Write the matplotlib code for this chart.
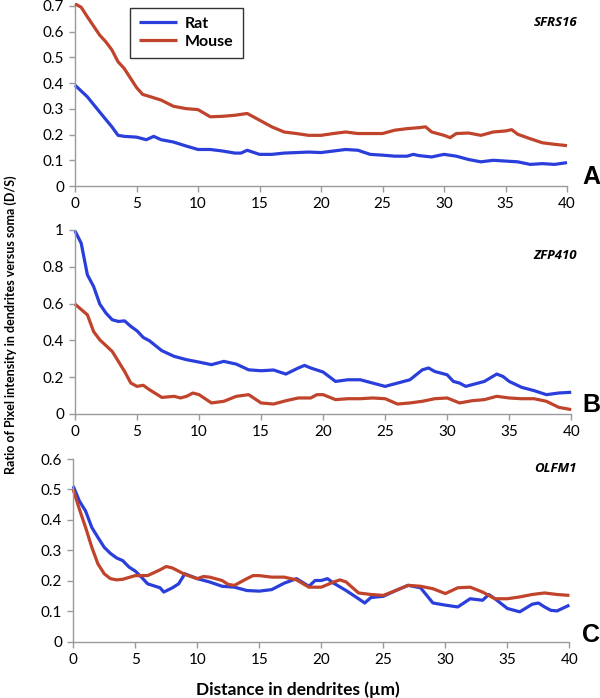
import matplotlib
matplotlib.use("Agg")
import matplotlib.pyplot as plt

plt.rcParams['font.family'] = ['Lato', 'DejaVu Sans']

RAT_COLOR = "#2a3edb"
MOUSE_COLOR = "#c0432b"

# ---- SFRS16 (A) ----
a_rat_x = [0, 1, 2, 3, 3.5, 4, 5, 5.8, 6.4, 7, 8, 9, 10, 11, 12, 13, 13.5, 14, 15, 16, 17, 18, 19,
           20, 21, 22, 23, 24, 25, 26, 27, 27.5, 28, 29, 30, 31, 32, 33, 34, 35, 36, 37, 38, 39, 40]
a_rat_y = [0.392, 0.347, 0.288, 0.23, 0.197, 0.193, 0.19, 0.18, 0.193, 0.18, 0.171, 0.156, 0.142, 0.142,
           0.136, 0.128, 0.128, 0.139, 0.123, 0.123, 0.128, 0.13, 0.132,
           0.13, 0.136, 0.142, 0.139, 0.123, 0.12, 0.116, 0.116, 0.123, 0.118, 0.113, 0.123, 0.116,
           0.103, 0.094, 0.1, 0.097, 0.094, 0.084, 0.087, 0.084, 0.091]
a_mouse_x = [0, 0.5, 1, 2, 2.5, 3, 3.5, 4, 5, 5.5, 6, 7, 8, 9, 10, 11, 12, 13, 14, 15, 16, 17, 18, 19,
             20, 21, 22, 23, 24, 25, 26, 27, 28, 28.5, 29, 30, 30.5, 31, 32, 33, 34, 35, 35.5, 36, 37, 38, 39, 40]
a_mouse_y = [0.708, 0.695, 0.658, 0.587, 0.561, 0.529, 0.483, 0.457, 0.383, 0.356, 0.349, 0.334, 0.31,
             0.301, 0.297, 0.269, 0.271, 0.275, 0.282, 0.256, 0.23, 0.21, 0.204, 0.197,
             0.197, 0.204, 0.21, 0.204, 0.204, 0.204, 0.217, 0.223, 0.227, 0.23, 0.21, 0.197, 0.188,
             0.204, 0.206, 0.197, 0.21, 0.214, 0.219, 0.201, 0.184, 0.168, 0.162, 0.157]

# ---- ZFP410 (B) ----
b_rat_x = [0, 0.5, 1, 1.5, 2, 2.5, 3, 3.5, 4, 4.5, 5, 5.5, 6, 7, 8, 9, 10, 11, 12, 13, 14, 15, 16, 17,
           18, 18.5, 19, 20, 21, 22, 23, 24, 25, 26, 27, 27.5, 28, 28.5, 29, 30, 30.5, 31, 31.5, 32,
           33, 34, 34.5, 35, 36, 37, 38, 39, 40]
b_rat_y = [0.995, 0.928, 0.756, 0.693, 0.597, 0.548, 0.512, 0.503, 0.506, 0.476, 0.452, 0.416, 0.398,
           0.344, 0.313, 0.295, 0.282, 0.268, 0.286, 0.271, 0.24, 0.235, 0.239, 0.217,
           0.25, 0.264, 0.25, 0.228, 0.177, 0.186, 0.186, 0.168, 0.15, 0.168, 0.186, 0.213, 0.24,
           0.25, 0.231, 0.213, 0.177, 0.168, 0.15, 0.159, 0.177, 0.217, 0.204, 0.177, 0.145,
           0.127, 0.105, 0.114, 0.118]
b_mouse_x = [0, 1, 1.5, 2, 3, 4, 4.5, 5, 5.5, 6, 7, 8, 8.5, 9, 9.5, 10, 11, 12, 13, 14, 15, 16, 17,
             18, 19, 19.5, 20, 21, 22, 23, 24, 25, 26, 27, 28, 29, 30, 31, 32, 33, 34, 35, 36, 37,
             38, 39, 40]
b_mouse_y = [0.597, 0.539, 0.448, 0.403, 0.34, 0.231, 0.168, 0.15, 0.156, 0.132, 0.09, 0.096, 0.087,
             0.096, 0.114, 0.105, 0.06, 0.069, 0.096, 0.105, 0.06, 0.054, 0.072, 0.087, 0.087,
             0.105, 0.105, 0.078, 0.083, 0.083, 0.087, 0.083, 0.054, 0.06, 0.069, 0.083, 0.087,
             0.06, 0.072, 0.078, 0.096, 0.087, 0.083, 0.083, 0.069, 0.036, 0.024]

# ---- OLFM1 (C) ----
c_rat_x = [0, 0.5, 1, 1.5, 2, 2.5, 3, 3.5, 4, 4.5, 5, 5.5, 6, 7, 7.3, 8, 8.5, 9, 10, 11, 12, 13, 14,
           15, 16, 17, 18, 19, 19.5, 20, 20.5, 21, 22, 23, 23.5, 24, 25, 26, 27, 28, 29, 30, 31,
           32, 33, 33.5, 34, 35, 36, 37, 37.5, 38, 38.5, 39, 40]
c_rat_y = [0.511, 0.462, 0.429, 0.375, 0.342, 0.31, 0.29, 0.275, 0.266, 0.245, 0.232, 0.212, 0.19,
           0.177, 0.163, 0.177, 0.19, 0.223, 0.207, 0.196, 0.182, 0.179, 0.168, 0.166, 0.171,
           0.192, 0.207, 0.182, 0.201, 0.201, 0.207, 0.192, 0.168, 0.141, 0.127, 0.145, 0.149,
           0.168, 0.185, 0.177, 0.127, 0.12, 0.114, 0.141, 0.136, 0.155, 0.141, 0.109, 0.098,
           0.123, 0.127, 0.114, 0.103, 0.101, 0.12]
c_mouse_x = [0, 0.5, 1, 1.5, 2, 2.5, 3, 3.5, 4, 5, 6, 7, 7.5, 8, 9, 10, 10.5, 11, 12, 12.5, 13, 14,
             14.5, 15, 16, 17, 18, 19, 20, 21, 21.5, 22, 23, 24, 25, 26, 27, 28, 29, 30, 31, 32,
             33, 34, 35, 36, 37, 38, 39, 40]
c_mouse_y = [0.5, 0.435, 0.375, 0.31, 0.255, 0.223, 0.207, 0.203, 0.205, 0.217, 0.217, 0.236, 0.247,
             0.242, 0.221, 0.207, 0.214, 0.212, 0.201, 0.188, 0.185, 0.207, 0.217, 0.217, 0.212,
             0.212, 0.203, 0.179, 0.179, 0.196, 0.203, 0.196, 0.16, 0.155, 0.152, 0.168, 0.185,
             0.182, 0.174, 0.158, 0.177, 0.179, 0.163, 0.141, 0.141, 0.147, 0.155, 0.16, 0.155, 0.152]

panels = [
    dict(name="SFRS16", letter="A", rect=[0.125, 0.7335, 0.820, 0.258], ymax=0.7,
         yticks=[0, 0.1, 0.2, 0.3, 0.4, 0.5, 0.6, 0.7], ylabels=["0", "0.1", "0.2", "0.3", "0.4", "0.5", "0.6", "0.7"],
         rat=(a_rat_x, a_rat_y), mouse=(a_mouse_x, a_mouse_y), gene_y=23, letter_y=177),
    dict(name="ZFP410", letter="B", rect=[0.125, 0.4069, 0.827, 0.2636], ymax=1.0,
         yticks=[0, 0.2, 0.4, 0.6, 0.8, 1.0], ylabels=["0", "0.2", "0.4", "0.6", "0.8", "1"],
         rat=(b_rat_x, b_rat_y), mouse=(b_mouse_x, b_mouse_y), gene_y=256, letter_y=405),
    dict(name="OLFM1", letter="C", rect=[0.122, 0.0807, 0.827, 0.2617], ymax=0.6,
         yticks=[0, 0.1, 0.2, 0.3, 0.4, 0.5, 0.6], ylabels=["0", "0.1", "0.2", "0.3", "0.4", "0.5", "0.6"],
         rat=(c_rat_x, c_rat_y), mouse=(c_mouse_x, c_mouse_y), gene_y=469, letter_y=635),
]

fig = plt.figure(figsize=(6.0, 6.98), dpi=100)
H = 698.0

for p in panels:
    ax = fig.add_axes(p["rect"])
    ax.plot(p["rat"][0], p["rat"][1], color=RAT_COLOR, linewidth=2.3, label="Rat",
            solid_capstyle='butt', clip_on=False)
    ax.plot(p["mouse"][0], p["mouse"][1], color=MOUSE_COLOR, linewidth=2.3, label="Mouse",
            solid_capstyle='butt', clip_on=False)
    ax.set_xlim(0, 40)
    ax.set_ylim(0, p["ymax"])
    ax.set_xticks([0, 5, 10, 15, 20, 25, 30, 35, 40])
    ax.set_yticks(p["yticks"])
    ax.set_yticklabels(p["ylabels"])
    for s in ["top", "right"]:
        ax.spines[s].set_visible(False)
    for s in ["left", "bottom"]:
        ax.spines[s].set_color("#9a9a9a")
        ax.spines[s].set_linewidth(1.0)
    ax.tick_params(direction="out", length=4, width=1.0, color="#9a9a9a",
                   labelsize=11, labelcolor="black", pad=4)
    ax.patch.set_alpha(0)

    fig.text(577 / 600, 1 - p["gene_y"] / H, p["name"], ha="right", va="center",
             fontsize=9.5, fontweight="bold", fontstyle="italic", family=["Open Sans", "DejaVu Sans"])
    fig.text(582 / 600, 1 - p["letter_y"] / H, p["letter"], ha="left", va="center",
             fontsize=18, fontweight="bold", family=["Liberation Sans", "DejaVu Sans"])

    if p["letter"] == "A":
        leg = ax.legend(loc="upper left", bbox_to_anchor=(0.112, 0.99), frameon=True, fancybox=False,
                        edgecolor="black", handlelength=2.4, borderpad=0.55, labelspacing=0.25,
                        handletextpad=0.5, borderaxespad=0,
                        prop={"weight": "bold", "size": 11.5})
        leg.get_frame().set_linewidth(1.0)

fig.text(11 / 600, 1 - 325 / H, "Ratio of Pixel intensity in dendrites versus soma (D/S)",
         rotation=90, ha="center", va="center", fontsize=9, fontweight="bold")
fig.text(298 / 600, 1 - 690 / H, "Distance in dendrites (\u00b5m)", ha="center", va="center",
         fontsize=12.5, fontweight="bold")

fig.savefig("out.png", dpi=100)
